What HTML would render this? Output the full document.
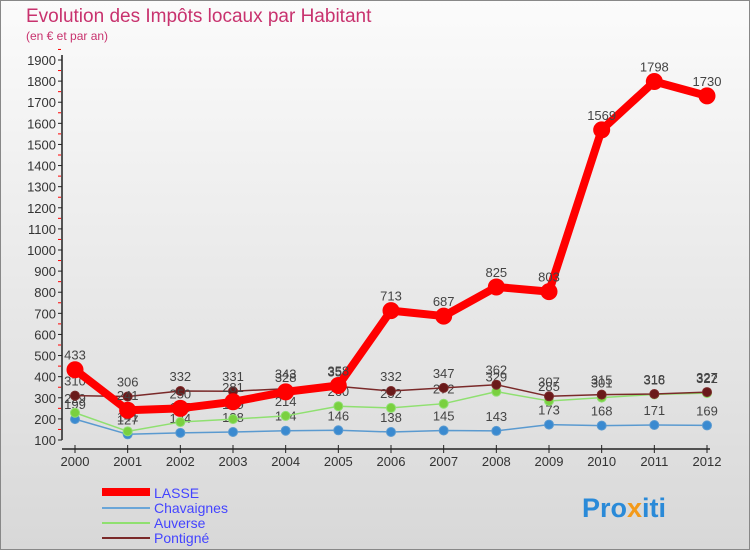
<!DOCTYPE html>
<html><head><meta charset="utf-8"><style>
body{margin:0;}
#c{width:750px;height:550px;position:relative;font-family:"Liberation Sans",sans-serif;}
</style></head><body>
<div id="c">
<svg width="750" height="550" xmlns="http://www.w3.org/2000/svg" id="svg">
<defs><linearGradient id="bg" x1="0" y1="0" x2="0" y2="1"><stop offset="0" stop-color="#fbfbfb"/><stop offset="1" stop-color="#d8d8d8"/></linearGradient></defs>
<rect x="0.5" y="0.5" width="749" height="549" fill="url(#bg)" stroke="#888"/>
<text x="26" y="22" font-size="19" fill="#c8326e">Evolution des Impôts locaux par Habitant</text>
<text x="26" y="40" font-size="12" fill="#c8326e">(en € et par an)</text>
<g id="axes"></g><g id="series"></g>
<g>
<line x1="102" y1="492" x2="150" y2="492" stroke="#f00" stroke-width="8"/>
<text x="154" y="498" font-size="14" fill="#44f">LASSE</text>
<line x1="102" y1="508" x2="150" y2="508" stroke="#6aa6d8" stroke-width="2"/>
<text x="154" y="513" font-size="14" fill="#44f">Chavaignes</text>
<line x1="102" y1="523" x2="150" y2="523" stroke="#8fe070" stroke-width="2"/>
<text x="154" y="528" font-size="14" fill="#44f">Auverse</text>
<line x1="102" y1="538" x2="150" y2="538" stroke="#7a2a2a" stroke-width="2"/>
<text x="154" y="543" font-size="14" fill="#44f">Pontigné</text>
</g>
<text x="582" y="517" font-size="27" font-weight="bold" fill="#2a8ad8">Pro<tspan fill="#f39a1a">x</tspan>iti</text>
</svg>
</div>
<script>
const years=[2000,2001,2002,2003,2004,2005,2006,2007,2008,2009,2010,2011,2012];
const lasse=[433,241,250,281,328,358,713,687,825,803,1569,1798,1730];
const chavaignes=[199,127,134,138,144,146,138,145,143,173,168,171,169];
const auverse=[229,141,185,199,214,260,252,272,329,285,301,316,322];
const pontigne=[310,306,332,331,343,354,332,347,362,307,315,318,327];
const yTicks=[100,200,300,400,500,600,700,800,900,1000,1100,1200,1300,1400,1500,1600,1700,1800,1900];
const NS="http://www.w3.org/2000/svg";
const x=i=>75+i*(707-75)/(years.length-1);
const y=v=>440-(v-100)*380/1800;
function mk(t,a,p){const e=document.createElementNS(NS,t);for(const k in a)e.setAttribute(k,a[k]);p.appendChild(e);return e;}
const ax=document.getElementById('axes');
const yl=mk('line',{x1:62,y1:55,x2:62,y2:440,stroke:'#222','stroke-width':1.5},ax);


const xl=mk('line',{x1:62,y1:449,x2:710,y2:449,stroke:'#222','stroke-width':1.5},ax);


yTicks.forEach(v=>{
 mk('line',{x1:58,y1:y(v),x2:62,y2:y(v),stroke:'#222'},ax);
 mk('line',{x1:58,y1:y(v+50),x2:61,y2:y(v+50),stroke:'#f00'},ax);
 const t=mk('text',{x:56,y:y(v)+5,'font-size':13,fill:'#333','text-anchor':'end'},ax);
 t.textContent=v;
 
 
});
years.forEach((yr,i)=>{
 mk('line',{x1:x(i),y1:445,x2:x(i),y2:453,stroke:'#222'},ax);
 const t=mk('text',{x:x(i),y:466,'font-size':13,fill:'#333','text-anchor':'middle'},ax);
 t.textContent=yr;
 
 
});
const sg=document.getElementById('series');
function series(vals,name,color,w,r,dot){
 const g=mk('g',{},sg);
 
 
 const pl=mk('polyline',{points:vals.map((v,i)=>x(i)+','+y(v)).join(' '),fill:'none',stroke:color,'stroke-width':w,'stroke-linejoin':'round'},g);
 
 
 vals.forEach((v,i)=>{
  const c=mk('circle',{cx:x(i),cy:y(v),r:r,fill:dot,stroke:color,'stroke-width':1},g);
  
  
  const t=mk('text',{x:x(i),y:y(v)-10,'font-size':13,fill:'#444','text-anchor':'middle'},g);
  t.textContent=v;
  
  
 });
}
series(chavaignes,'chavaignes','#5a9ad0',1.5,4.5,'#3a8ad0');
series(auverse,'auverse','#8fe070',1.5,4.5,'#7ad040');
series(pontigne,'pontigne','#7a2a2a',1.5,4.5,'#6a1a1a');
series(lasse,'lasse','#f00',8,8,'#f00');
</script>
</body></html>
